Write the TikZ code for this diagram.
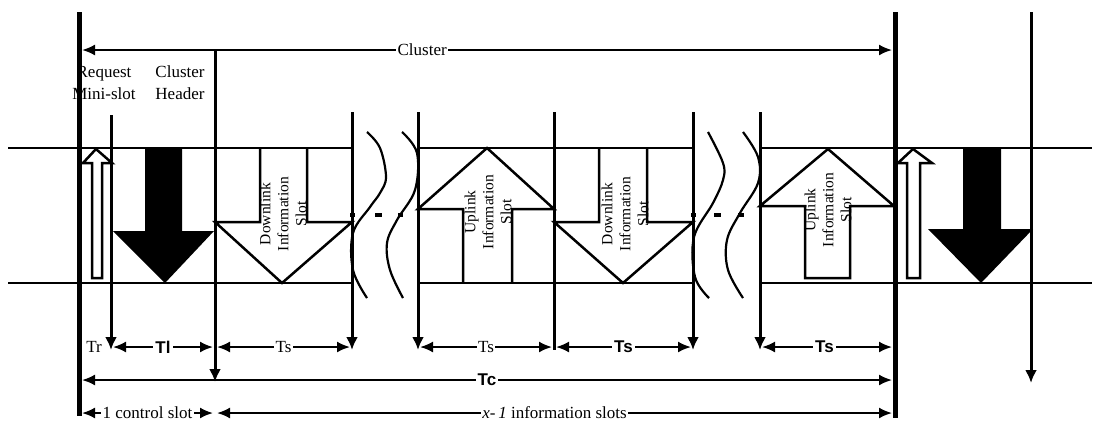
\documentclass[tikz,border=0pt]{standalone}
\usepackage{fontspec}
\setmainfont{Liberation Serif}
\newfontfamily\hsans{Liberation Sans}
\usetikzlibrary{arrows.meta}
\begin{document}
\begin{tikzpicture}[x=1pt,y=-1pt,
  heavy/.style={line width=5pt},
  lane/.style={line width=2.5pt},
  vline/.style={line width=3pt},
  vdown/.style={line width=3pt,-{Latex[length=13pt,width=12pt]}},
  dim/.style={line width=2pt,{Latex[length=13pt,width=11pt]}-{Latex[length=13pt,width=11pt]}},
  slotshape/.style={line width=2.5pt,line join=miter},
  wave/.style={line width=2.2pt},
  lbl/.style={font=\fontsize{17}{19}\selectfont,fill=white,inner sep=1.5pt},
  blbl/.style={font=\hsans\bfseries\fontsize{17}{19}\selectfont,fill=white,inner sep=2pt},
  slottext/.style={font=\fontsize{15.5}{18}\selectfont,align=center,rotate=90,inner sep=0pt},
  toptext/.style={font=\fontsize{17}{22}\selectfont,align=center,inner sep=0pt},
  dashmark/.style={line width=3.5pt}
]
\fill[white] (0,0) rectangle (1100,424);
\useasboundingbox (0,0) rectangle (1100,424);

% ---- coordinates
\coordinate (L0a) at (8,148);   \coordinate (L0b) at (352,148);
\coordinate (L1a) at (418,148); \coordinate (L1b) at (693,148);
\coordinate (L2a) at (760,148); \coordinate (L2b) at (1092,148);
\coordinate (M0a) at (8,283);   \coordinate (M0b) at (352,283);
\coordinate (M1a) at (418,283); \coordinate (M1b) at (693,283);
\coordinate (M2a) at (760,283); \coordinate (M2b) at (1092,283);

\coordinate (V0t) at (79,12);   \coordinate (V0b) at (79,416);
\coordinate (V9t) at (895,12);  \coordinate (V9b) at (895,418);
\coordinate (V1t) at (111,115); \coordinate (V1b) at (111,350);
\coordinate (V2t) at (215,50);  \coordinate (V2b) at (215,382);
\coordinate (V3t) at (352,112); \coordinate (V3b) at (352,350);
\coordinate (V4t) at (418,112); \coordinate (V4b) at (418,350);
\coordinate (V5t) at (554,112); \coordinate (V5b) at (554,350);
\coordinate (V6t) at (693,112); \coordinate (V6b) at (693,350);
\coordinate (V7t) at (760,112); \coordinate (V7b) at (760,350);
\coordinate (V8t) at (1031,12); \coordinate (V8b) at (1031,383);

% ---- lane lines
\draw[lane] (L0a) -- (L0b);
\draw[lane] (L1a) -- (L1b);
\draw[lane] (L2a) -- (L2b);
\draw[lane] (M0a) -- (M0b);
\draw[lane] (M1a) -- (M1b);
\draw[lane] (M2a) -- (M2b);

% ---- slot shapes
\draw[slotshape,fill=white] (92,278) -- (92,163) -- (83,163) -- (96,149) -- (112,163) -- (102,163) -- (102,278) -- cycle;
\fill[black] (145,148) -- (145,231) -- (113,231) -- (165,283) -- (214,231) -- (182,231) -- (182,148) -- cycle;
\draw[slotshape] (260,148) -- (260,222) -- (215,222) -- (282,283) -- (352,222) -- (307,222) -- (307,148);
\draw[slotshape] (463,283) -- (463,209) -- (418,209) -- (487,148) -- (554,209) -- (512,209) -- (512,283);
\draw[slotshape] (599,148) -- (599,222) -- (554,222) -- (623,283) -- (693,222) -- (647,222) -- (647,148);
\draw[slotshape] (805,278) -- (805,206) -- (760,206) -- (828,149) -- (894,206) -- (850,206) -- (850,278) -- cycle;
\draw[slotshape,fill=white] (907,278) -- (907,163) -- (898,163) -- (913,149) -- (932,163) -- (920,163) -- (920,278) -- cycle;
\fill[black] (963,148) -- (963,229) -- (928,229) -- (981,283) -- (1033,229) -- (1001,229) -- (1001,148) -- cycle;

% slot texts
\node[slottext] (dl1) at (283,214) {Downlink\\Information\\Slot};
\node[slottext] (ul1) at (488,212) {Uplink\\Information\\Slot};
\node[slottext] (dl2) at (625,214) {Downlink\\Information\\Slot};
\node[slottext] (ul2) at (828,210) {Uplink\\Information\\Slot};

% ---- wavy breaks
\draw[wave] plot[smooth,tension=0.6] coordinates {(367,132) (380,148) (386,177) (380,193) (370,207) (353,233) (353,270) (367,298)};
\draw[wave] plot[smooth,tension=0.6] coordinates {(402,132) (417,153) (415,190) (397,220) (387,243) (390,270) (403,298)};
\draw[wave] plot[smooth,tension=0.6] coordinates {(708,132) (723,163) (723,180) (713,203) (694,237) (695,277) (709,298)};
\draw[wave] plot[smooth,tension=0.6] coordinates {(743,132) (758,157) (758,183) (740,213) (727,240) (728,270) (743,298)};
\draw[dashmark] (350,215) -- (355,215);
\draw[dashmark] (375,215) -- (382,215);
\draw[dashmark] (398,215) -- (403,215);
\draw[dashmark] (691,215) -- (696,215);
\draw[dashmark] (714,215) -- (721,215);
\draw[dashmark] (738,215) -- (744,215);

% ---- vertical lines
\draw[heavy] (V0t) -- (V0b);
\draw[heavy] (V9t) -- (V9b);
\draw[vdown] (V1t) -- (V1b);
\draw[vdown] (V2t) -- (V2b);
\draw[vdown] (V3t) -- (V3b);
\draw[vdown] (V4t) -- (V4b);
\draw[vline] (V5t) -- (V5b);
\draw[vdown] (V6t) -- (V6b);
\draw[vdown] (V7t) -- (V7b);
\draw[vdown] (V8t) -- (V8b);

% ---- top labels
\node[toptext] (req) at (104,83) {Request\\Mini-slot};
\node[toptext] (hdr) at (180,83) {Cluster\\Header};

% ---- dimension arrows
\coordinate (C0) at (82,50);  \coordinate (C1) at (892,50);
\draw[dim] (C0) -- node[lbl,pos=0.42] (clus) {Cluster} (C1);

\node[font=\fontsize{17}{19}\selectfont,inner sep=0pt] (tr) at (94,347) {Tr};
\coordinate (A1) at (113,347); \coordinate (A2) at (213,347);
\draw[dim] (A1) -- node[blbl] (tl) {Tl} (A2);
\coordinate (A3) at (217,347); \coordinate (A4) at (350,347);
\draw[dim] (A3) -- node[lbl] (ts1) {Ts} (A4);
\coordinate (A5) at (420,347); \coordinate (A6) at (552,347);
\draw[dim] (A5) -- node[lbl] (ts2) {Ts} (A6);
\coordinate (A7) at (556,347); \coordinate (A8) at (691,347);
\draw[dim] (A7) -- node[blbl] (ts3) {Ts} (A8);
\coordinate (A9) at (762,347); \coordinate (A10) at (892,347);
\draw[dim] (A9) -- node[blbl,pos=0.48] (ts4) {Ts} (A10);

\coordinate (B1) at (82,380); \coordinate (B2) at (892,380);
\draw[dim] (B1) -- node[blbl] (tc) {Tc} (B2);

\coordinate (D1) at (82,413); \coordinate (D2) at (213,413);
\draw[dim] (D1) -- node[lbl,pos=0.5] (ctl) {1 control slot} (D2);
\coordinate (D3) at (217,413); \coordinate (D4) at (892,413);
\draw[dim] (D3) -- node[lbl] (inf) {\textit{x}-\,\textit{1} information slots} (D4);
\end{tikzpicture}
\end{document}
